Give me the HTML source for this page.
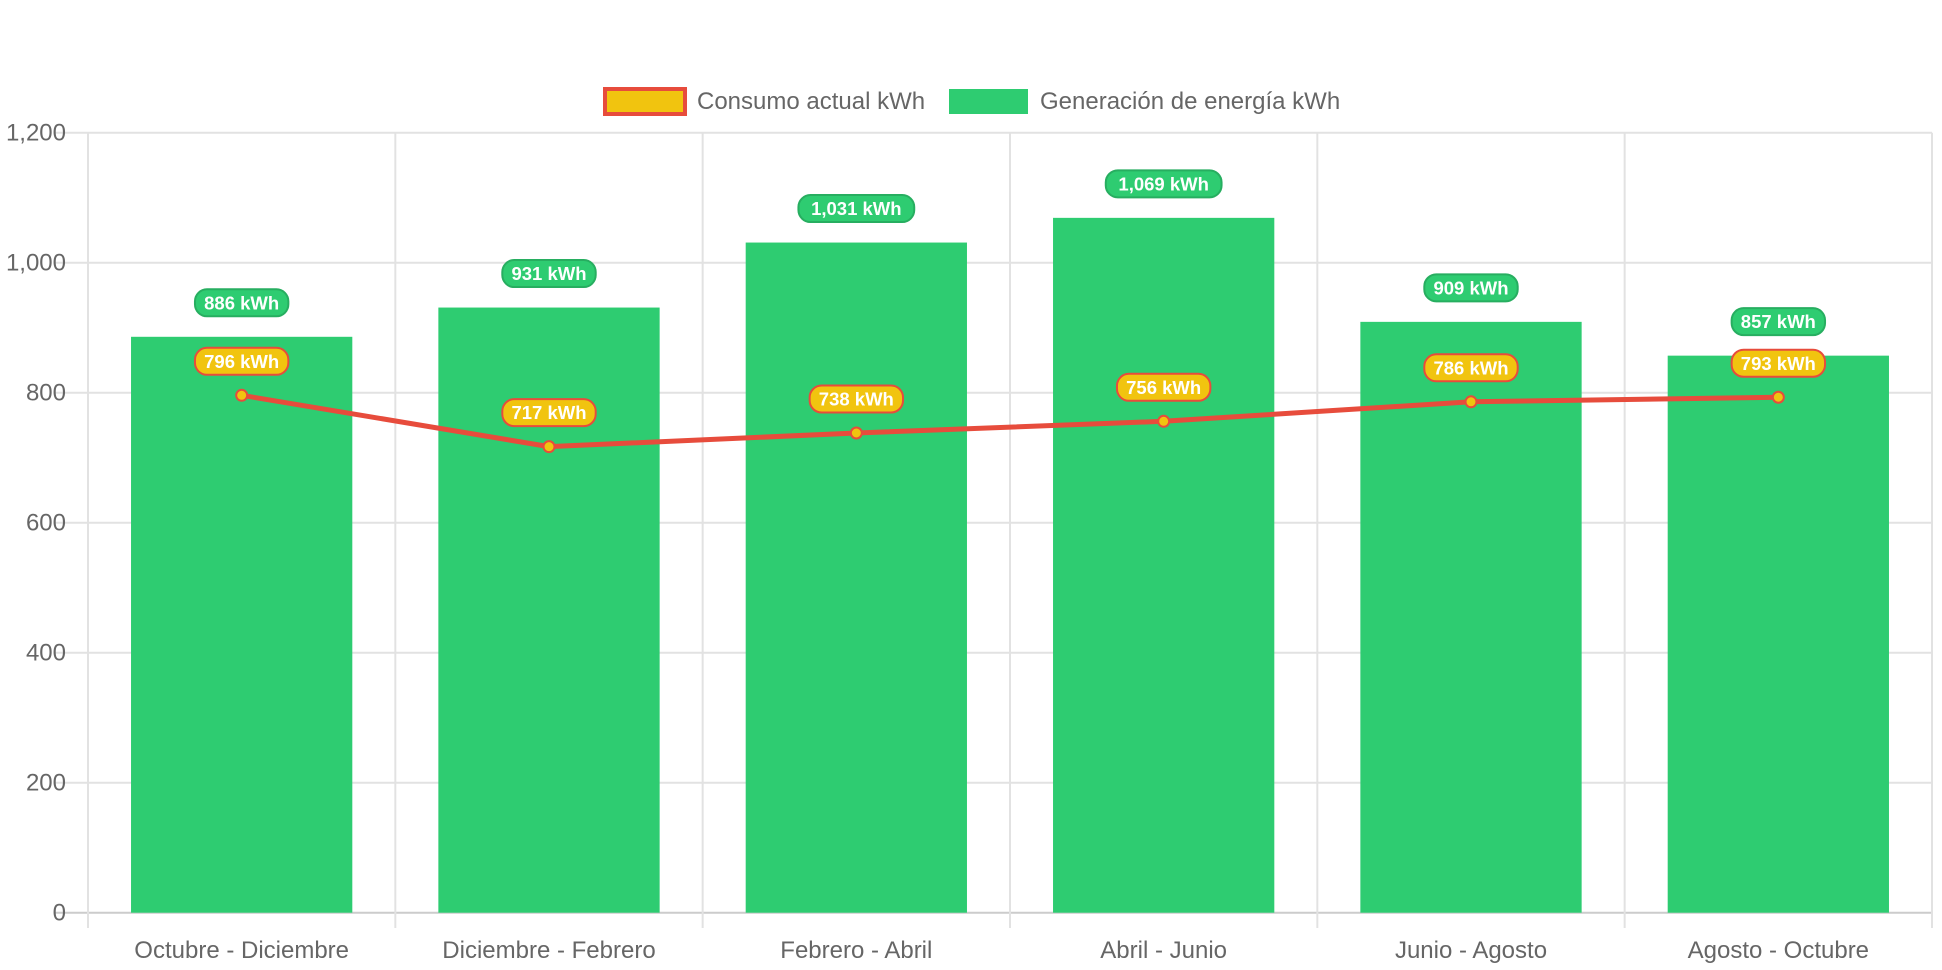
<!DOCTYPE html>
<html><head><meta charset="utf-8"><style>
html,body{margin:0;padding:0;background:#fff;}
svg{display:block;font-family:"Liberation Sans",Arial,sans-serif;}
</style></head><body>
<svg id="chart" width="1942" height="970" xmlns="http://www.w3.org/2000/svg">
<g>
 <g>
  <rect x="605" y="89" width="80" height="25" fill="#f1c40f" stroke="#e74c3c" stroke-width="4"/>
  <text x="697" y="109" font-size="24" fill="#666">Consumo actual kWh</text>
 </g>
 <g>
  <rect x="949" y="89" width="79" height="25" fill="#2ecc71"/>
  <text x="1040" y="109" font-size="24" fill="#666">Generación de energía kWh</text>
 </g>
</g>
<g id="grid"></g>
<g id="bars"></g>
<g id="line"></g>
<g id="labels"></g>
</svg>
<script>
const categories=["Octubre - Diciembre","Diciembre - Febrero","Febrero - Abril","Abril - Junio","Junio - Agosto","Agosto - Octubre"];
const generacion=[886,931,1031,1069,909,857];
const consumo=[796,717,738,756,786,793];
const yTicks=[0,200,400,600,800,1000,1200];

const NS="http://www.w3.org/2000/svg";
const L=88,R=1932,T=132.7,B=912.7,YMAX=1200;
const cw=(R-L)/categories.length;
const y=v=>B-(v/YMAX)*(B-T);
const xc=i=>L+cw*(i+0.5);
function mk(tag,attrs,parent){const e=document.createElementNS(NS,tag);for(const k in attrs)e.setAttribute(k,attrs[k]);parent.appendChild(e);return e;}
const fmt=v=>v.toLocaleString('en-US');
const grid=document.getElementById('grid');
yTicks.forEach(t=>{
 const ln=mk('line',{x1:54,x2:R,y1:y(t),y2:y(t),stroke:t===0?'#ccc':'#e2e2e2','stroke-width':2},grid);
 
 
 const tx=mk('text',{x:66,y:y(t)+8,'text-anchor':'end','font-size':24,fill:'#666'},grid);
 tx.textContent=fmt(t);
 
 
});
for(let i=0;i<=categories.length;i++){
 const x=L+cw*i;
 const ln=mk('line',{x1:x,x2:x,y1:T,y2:928,stroke:'#e2e2e2','stroke-width':2},grid);
 
 
}
categories.forEach((c,i)=>{
 const tx=mk('text',{x:xc(i),y:958,'text-anchor':'middle','font-size':24,fill:'#666'},grid);
 tx.textContent=c;
 
 
});
const bars=document.getElementById('bars');
const bw=cw*0.72;
generacion.forEach((v,i)=>{
 const r=mk('rect',{x:xc(i)-bw/2,y:y(v),width:bw,height:B-y(v),fill:'#2ecc71'},bars);
 
 
});
const lg=document.getElementById('line');
const pl=mk('polyline',{points:consumo.map((v,i)=>xc(i)+','+y(v)).join(' '),fill:'none',stroke:'#e74c3c','stroke-width':5,'stroke-linejoin':'round'},lg);


consumo.forEach((v,i)=>{
 const c=mk('circle',{cx:xc(i),cy:y(v),r:5.5,fill:'#f1c40f',stroke:'#e74c3c','stroke-width':2},lg);
 
 
});
const lab=document.getElementById('labels');
function label(x,cy,text,fill,stroke,name){
 const g=mk('g',{},lab);
 
 
 const w=text.length*11.2+15;
 mk('rect',{x:x-w/2,y:cy-13.5,width:w,height:27,rx:12,fill:fill,stroke:stroke,'stroke-width':2},g);
 const t=mk('text',{x:x,y:cy+6.5,'text-anchor':'middle','font-size':18.5,'font-weight':'bold',fill:'#fff'},g);
 t.textContent=text;
}
generacion.forEach((v,i)=>label(xc(i),y(v)-34,fmt(v)+' kWh','#2ecc71','#27ae60','generacion-value-label'));
consumo.forEach((v,i)=>label(xc(i),y(v)-34,fmt(v)+' kWh','#f1c40f','#e74c3c','consumo-value-label'));
</script>
</body></html>
